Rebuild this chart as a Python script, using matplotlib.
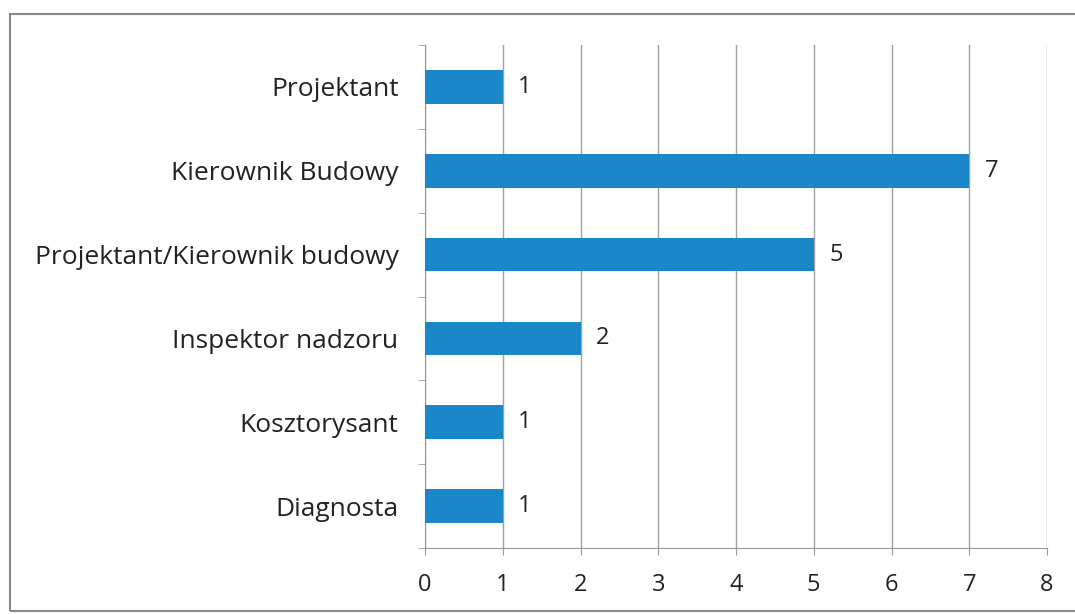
import matplotlib.pyplot as plt
from matplotlib.patches import Rectangle
from matplotlib.ticker import FixedLocator

categories = ['Projektant', 'Kierownik Budowy', 'Projektant/Kierownik budowy',
              'Inspektor nadzoru', 'Kosztorysant', 'Diagnosta']
values = [1, 7, 5, 2, 1, 1]
xticks = [0, 1, 2, 3, 4, 5, 6, 7, 8]

plt.rcParams['font.family'] = ['Open Sans', 'DejaVu Sans']

fig = plt.figure(figsize=(10.75, 6.14), dpi=100)
ax = fig.add_axes([425 / 1075, 1 - 548 / 614, 622 / 1075, 503 / 614])

# scanned page frame around the chart
fig.patches.append(Rectangle((10 / 1075, 1 - 611 / 614), 1.1, 597 / 614,
                             transform=fig.transFigure, fill=False,
                             edgecolor='#8a8a8a', linewidth=1.5))

n = len(categories)
pos = list(range(n - 1, -1, -1))
ax.barh(pos, values, height=0.4, color='#1b87c8', zorder=3)
for y, v in zip(pos, values):
    ax.text(v + 0.2, y, str(v), va='center', ha='left', fontsize=17, color='#222222')

ax.set_xlim(0, 8)
ax.set_ylim(-0.5, n - 0.5)
ax.set_xticks(xticks)
ax.set_xticklabels([str(t) for t in xticks], fontsize=17, color='#222222')
ax.set_yticks(pos)
ax.set_yticklabels(categories, fontsize=19, color='#222222')
ax.yaxis.set_minor_locator(FixedLocator([i - 0.5 for i in range(n + 1)]))
ax.tick_params(axis='y', which='major', length=0, pad=19)
ax.tick_params(axis='y', which='minor', length=5, color='#999999')
ax.tick_params(axis='x', length=5, color='#999999', pad=13)
ax.grid(axis='x', color='#a0a0a0', linewidth=1, zorder=0)

for s in ['top', 'right']:
    ax.spines[s].set_visible(False)
for s in ['left', 'bottom']:
    ax.spines[s].set_color('#999999')

fig.savefig('out.png', dpi=100)
